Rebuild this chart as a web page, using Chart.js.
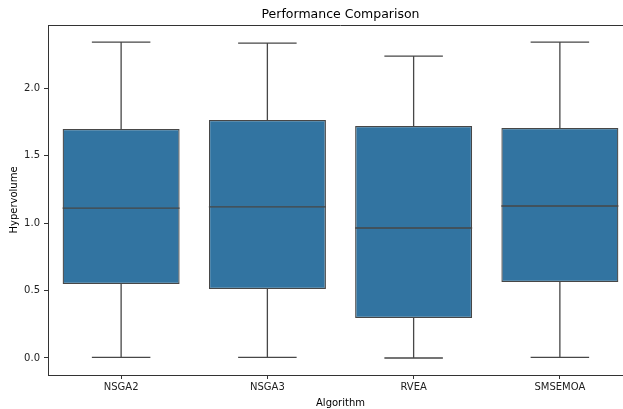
<!DOCTYPE html>
<html>
<head>
<meta charset="utf-8">
<script src="https://cdn.jsdelivr.net/npm/chart.js@4/dist/chart.umd.min.js"></script>
<style>
  html, body { margin: 0; padding: 0; background: #fff; overflow: hidden; }
  #wrap { position: relative; width: 623px; height: 409px; overflow: hidden; }
  #myChart { position: absolute; left: 0; top: 0; }
</style>
</head>
<body>
<div id="wrap"><canvas id="myChart" width="640" height="409"></canvas></div>
<script>
// Box plot values
const algorithms = ['NSGA2', 'NSGA3', 'RVEA', 'SMSEMOA'];
const whiskerLow = [0.005, 0.005, 0.0, 0.005];
const quartile1 = [0.548, 0.511, 0.296, 0.563];
const medians = [1.111, 1.119, 0.963, 1.126];
const quartile3 = [1.696, 1.763, 1.719, 1.704];
const whiskerHigh = [2.34, 2.333, 2.237, 2.34];
const yTicks = [0.0, 0.5, 1.0, 1.5, 2.0];
const chartTitle = 'Performance Comparison';

const boxColor = '#3274a1';
const lineColor = '#474747';

// Draws whiskers, caps, medians, the top spine and the title
const boxPlotExtras = {
  id: 'boxPlotExtras',
  afterDatasetsDraw(chart) {
    const ctx = chart.ctx;
    const xScale = chart.scales.x;
    const yScale = chart.scales.y;
    const bars = chart.getDatasetMeta(0).data;
    ctx.save();
    ctx.strokeStyle = lineColor;
    ctx.lineWidth = 1.3;
    algorithms.forEach(function(name, i) {
      const x = xScale.getPixelForValue(i);
      const half = bars[i].width / 2;
      const cap = half / 2;
      const yLo = yScale.getPixelForValue(whiskerLow[i]);
      const yQ1 = yScale.getPixelForValue(quartile1[i]);
      const yMed = yScale.getPixelForValue(medians[i]);
      const yQ3 = yScale.getPixelForValue(quartile3[i]);
      const yHi = yScale.getPixelForValue(whiskerHigh[i]);
      ctx.beginPath();
      // whiskers
      ctx.moveTo(x, yQ3); ctx.lineTo(x, yHi);
      ctx.moveTo(x, yQ1); ctx.lineTo(x, yLo);
      // caps
      ctx.moveTo(x - cap, yHi); ctx.lineTo(x + cap, yHi);
      ctx.moveTo(x - cap, yLo); ctx.lineTo(x + cap, yLo);
      // median
      ctx.moveTo(x - half, yMed); ctx.lineTo(x + half, yMed);
      ctx.stroke();
    });
    // top spine
    const a = chart.chartArea;
    ctx.strokeStyle = '#333';
    ctx.lineWidth = 1;
    ctx.beginPath();
    ctx.moveTo(a.left, a.top + 0.5);
    ctx.lineTo(a.right, a.top + 0.5);
    ctx.stroke();
    // title centred over the axes
    ctx.fillStyle = '#000';
    ctx.font = '12.5px "DejaVu Sans"';
    ctx.textAlign = 'center';
    ctx.textBaseline = 'middle';
    ctx.fillText(chartTitle, (a.left + a.right) / 2, 15);
    ctx.restore();
  }
};

function drawChart() {
  const ctx = document.getElementById('myChart').getContext('2d');
  new Chart(ctx, {
    type: 'bar',
    data: {
      labels: algorithms,
      datasets: [{
        label: 'Hypervolume',
        data: algorithms.map(function(_, i) { return [quartile1[i], quartile3[i]]; }),
        backgroundColor: boxColor,
        borderColor: lineColor,
        borderWidth: 1.3,
        borderSkipped: false,
        categoryPercentage: 0.8,
        barPercentage: 1.0
      }]
    },
    options: {
      responsive: false,
      animation: false,
      layout: { padding: { left: 0, right: 7, top: 25, bottom: 0 } },
      plugins: {
        legend: { display: false },
        tooltip: { enabled: false },
        title: { display: false }
      },
      scales: {
        x: {
          grid: { display: true, offset: false, drawOnChartArea: false, drawTicks: true, tickLength: 4, color: '#333' },
          border: { display: true, color: '#333' },
          ticks: { color: '#222', padding: 2, font: { family: 'DejaVu Sans', size: 10 } },
          title: {
            display: true, text: 'Algorithm', color: '#000',
            font: { family: 'DejaVu Sans', size: 10 }, padding: { top: 1, bottom: 0 }
          },
          afterFit: function(axis) { axis.height = 34; }
        },
        y: {
          min: -0.126,
          max: 2.467,
          afterBuildTicks: function(axis) {
            axis.ticks = yTicks.map(function(v) { return { value: v }; });
          },
          grid: { display: true, drawOnChartArea: false, drawTicks: true, tickLength: 4, color: '#333' },
          border: { display: true, color: '#333' },
          ticks: {
            color: '#222', padding: 4,
            font: { family: 'DejaVu Sans', size: 10 },
            callback: function(v) { return Number(v).toFixed(1); }
          },
          title: {
            display: true, text: 'Hypervolume', color: '#000',
            font: { family: 'DejaVu Sans', size: 10 }, padding: { top: 8, bottom: 0 }
          },
          afterFit: function(axis) { axis.width = 48; }
        }
      }
    },
    plugins: [boxPlotExtras]
  });
}

window.onload = drawChart;
</script>
</body>
</html>
